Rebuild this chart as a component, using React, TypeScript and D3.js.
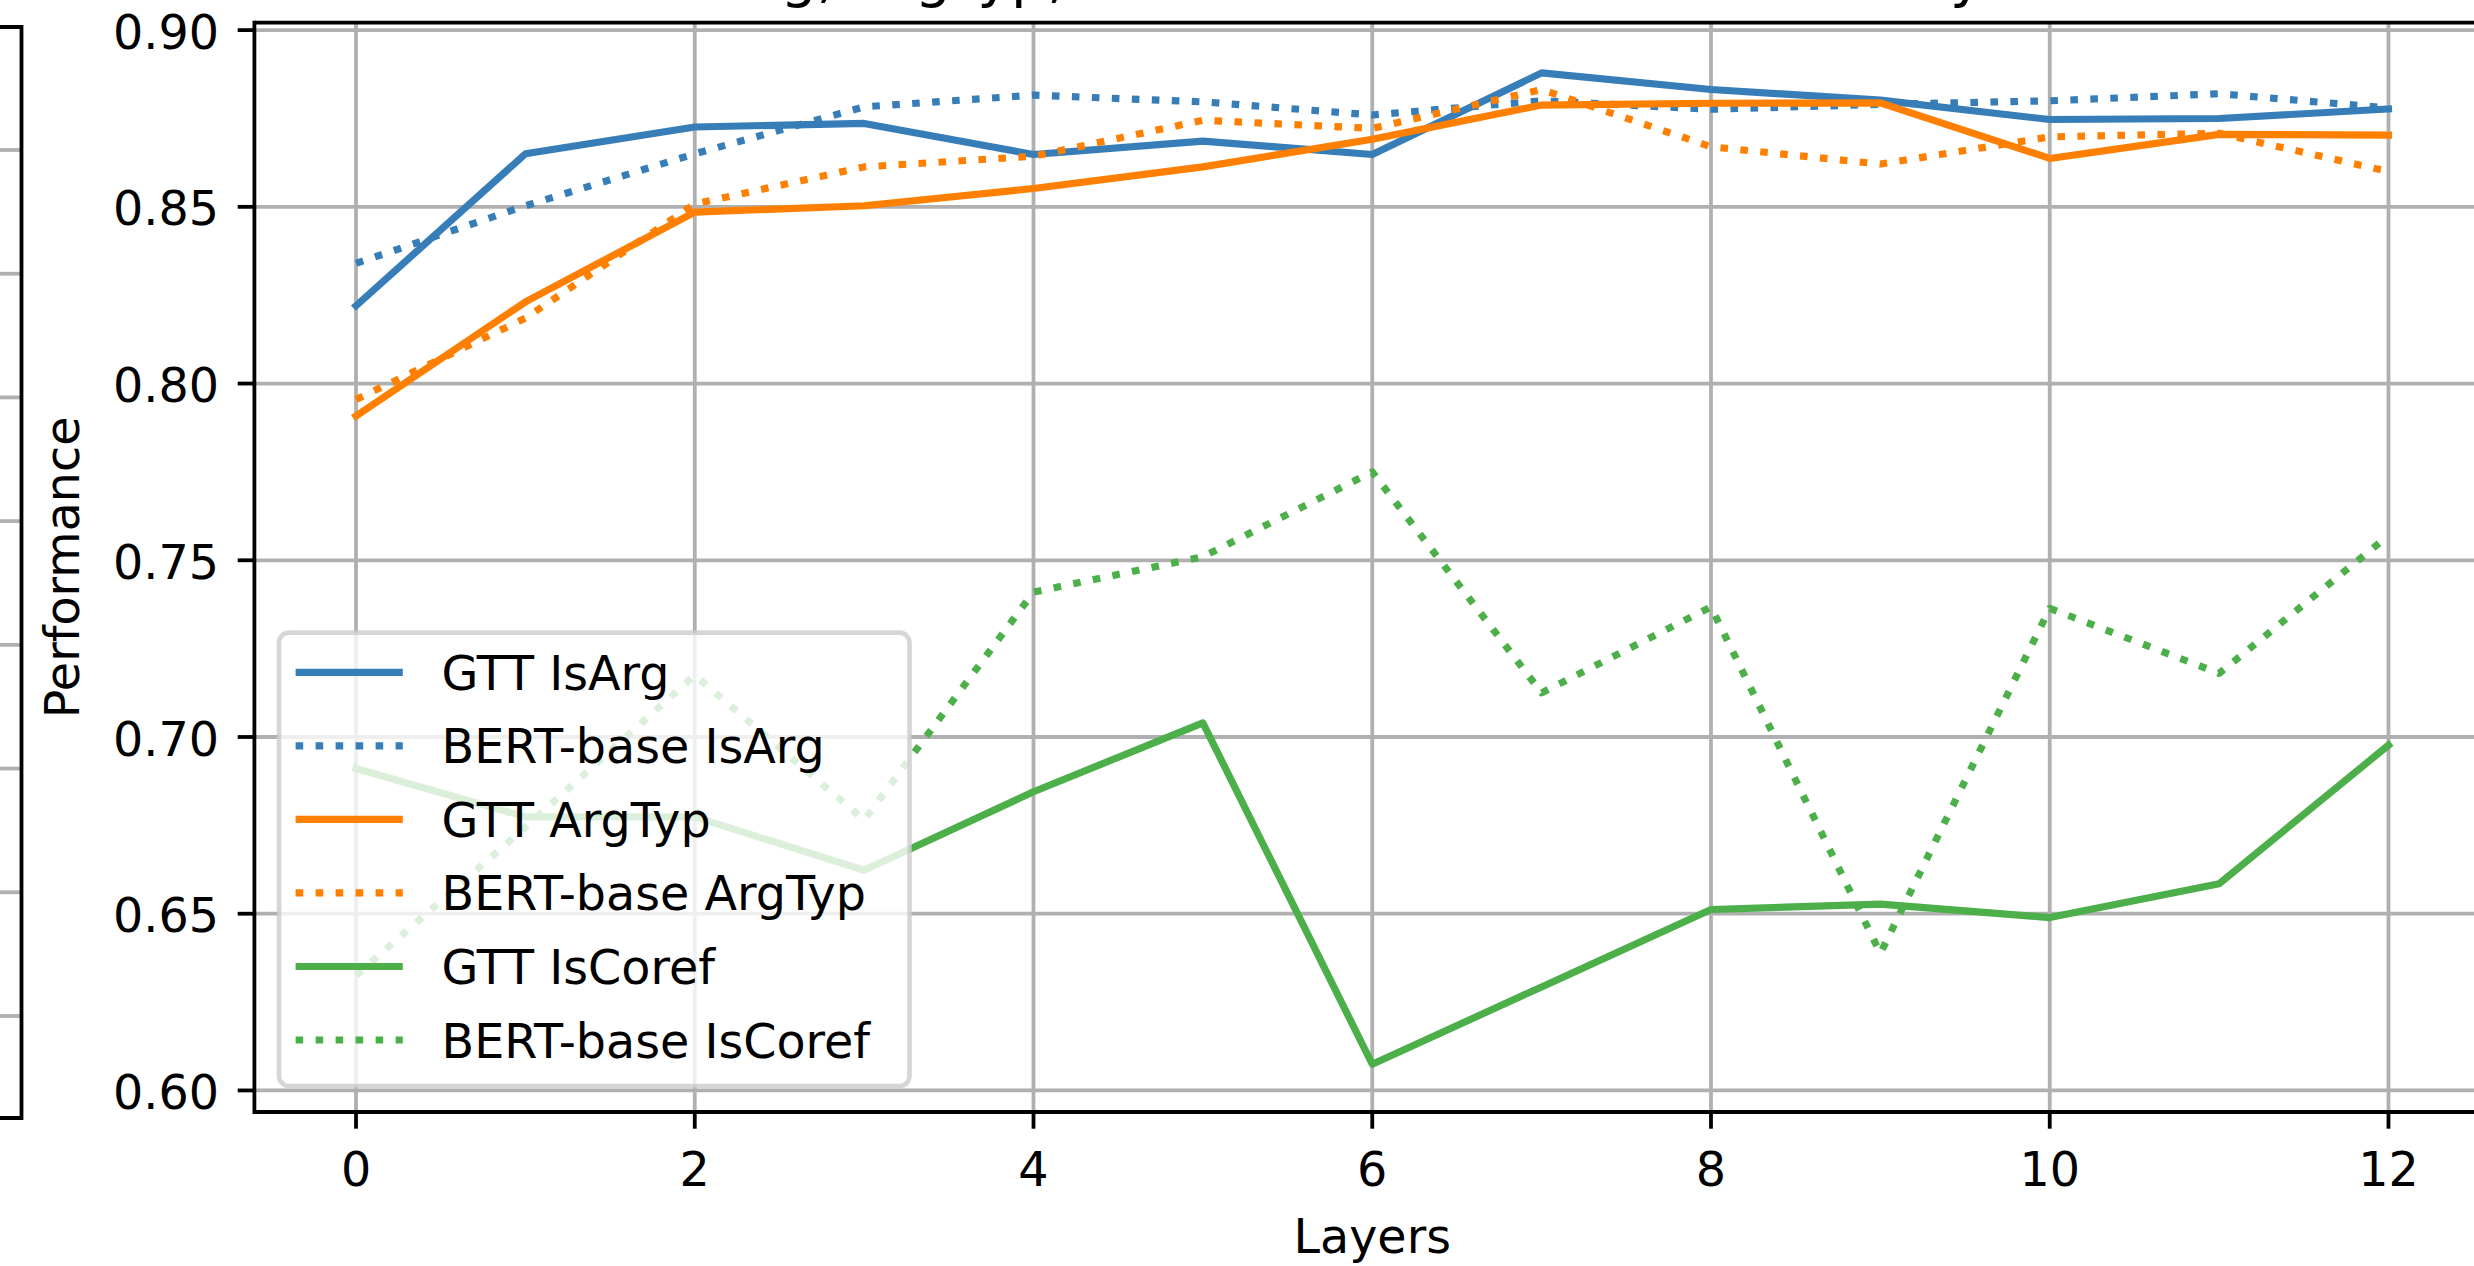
import React from "react";
import * as d3 from "d3";

// ---- data ----
const layers = [0, 1, 2, 3, 4, 5, 6, 7, 8, 9, 10, 11, 12];
const gttIsArg = [0.822, 0.865, 0.8726, 0.8736, 0.8648, 0.8686, 0.8648, 0.8879, 0.8832, 0.8802, 0.8747, 0.875, 0.8777];
const bertIsArg = [0.834, 0.8503, 0.865, 0.8783, 0.8816, 0.8797, 0.876, 0.880, 0.8776, 0.879, 0.880, 0.882, 0.878];
const gttArgTyp = [0.7908, 0.8231, 0.8485, 0.8503, 0.8552, 0.8613, 0.8691, 0.8788, 0.8793, 0.8794, 0.8637, 0.8705, 0.8703];
const bertArgTyp = [0.7955, 0.8185, 0.8508, 0.8613, 0.8643, 0.8745, 0.8722, 0.8832, 0.867, 0.8621, 0.8698, 0.8708, 0.860];
const gttIsCoref = [0.6911, 0.6774, 0.6774, 0.6623, 0.6845, 0.704, 0.6074, 0.6293, 0.6512, 0.6527, 0.6489, 0.6585, 0.6977];
const bertIsCoref = [0.6326, 0.6745, 0.7175, 0.6765, 0.741, 0.751, 0.775, 0.7125, 0.7368, 0.6388, 0.7364, 0.718, 0.757];

const seriesNames = ["GTT IsArg", "BERT-base IsArg", "GTT ArgTyp", "BERT-base ArgTyp", "GTT IsCoref", "BERT-base IsCoref"];
const seriesValues = [gttIsArg, bertIsArg, gttArgTyp, bertArgTyp, gttIsCoref, bertIsCoref];
const seriesColors = ["#377eb8", "#377eb8", "#ff7f00", "#ff7f00", "#4daf4a", "#4daf4a"];
const seriesDotted = [false, true, false, true, false, true];

const xTicks = [0, 2, 4, 6, 8, 10, 12];
const yTicks = [0.6, 0.65, 0.7, 0.75, 0.8, 0.85, 0.9];
const leftPanelGrid = [0, 1, 2, 3, 4, 5, 6, 7];

const titleText = "IsArg, ArgTyp, IsCoref Performance across Layers";
const xLabel = "Layers";
const yLabel = "Performance";

// ---- layout ----
const W = 2474;
const H = 1266;
const FONT = "'DejaVu Sans', sans-serif";
const FS = 47.6;
const LW = 7.15;
const GRID_W = 3.8;
const SPINE_W = 3.8;
const TICK_LEN = 16.7;

const plotLeft = 254.4;
const plotRight = 2490.1;
const plotTop = 22.7;
const plotBottom = 1112;

export default function App() {
  const x = d3.scaleLinear().domain([-0.6, 12.6]).range([plotLeft, plotRight]);
  const y = d3.scaleLinear().domain([0.5939, 0.9021]).range([plotBottom, plotTop]);
  const leftGridY = d3.scaleLinear().domain([0, 7]).range([150, 1016]);

  const line = d3
    .line<[number, number]>()
    .x((d) => x(d[0]))
    .y((d) => y(d[1]));

  const legX0 = 279;
  const legX1 = 909.5;
  const legY0 = 632.7;
  const legY1 = 1086;
  const rowY = d3.scaleLinear().domain([0, 5]).range([672.3, 1040]);
  const handleX0 = 295.6;
  const handleX1 = 402.8;
  const textX = 441.6;

  const cx = (plotLeft + plotRight) / 2;
  const cy = (plotTop + plotBottom) / 2;

  return (
    <svg
      width={W}
      height={H}
      viewBox={`0 0 ${W} ${H}`}
      style={{ position: "absolute", left: 0, top: 0, display: "block", background: "#fff" }}
      fontFamily={FONT}
    >
      <rect x={0} y={0} width={W} height={H} fill="#fff" />

      {/* remnant of the neighbouring panel on the left */}
      <g>
        {leftPanelGrid.map((i) => (
          <line key={i} x1={0} x2={21} y1={leftGridY(i)} y2={leftGridY(i)} stroke="#b0b0b0" strokeWidth={GRID_W} />
        ))}
        <path d={`M0,27 L21.5,27 L21.5,1118 L0,1118`} fill="none" stroke="#000" strokeWidth={SPINE_W} />
      </g>

      {/* title (mostly cut off at the top) */}
      <text x={cx} y={-4.5} textAnchor="middle" fontSize={57.2} fill="#000">
        {titleText}
      </text>

      {/* grid */}
      <g>
        {xTicks.map((t) => (
          <line key={"gx" + t} x1={x(t)} x2={x(t)} y1={plotTop} y2={plotBottom} stroke="#b0b0b0" strokeWidth={GRID_W} />
        ))}
        {yTicks.map((t) => (
          <line key={"gy" + t} x1={plotLeft} x2={plotRight} y1={y(t)} y2={y(t)} stroke="#b0b0b0" strokeWidth={GRID_W} />
        ))}
      </g>

      {/* series */}
      <g>
        {seriesValues.map((vals, i) => (
          <path
            key={seriesNames[i]}
            d={line(layers.map((l, j) => [l, vals[j]] as [number, number])) || ""}
            fill="none"
            stroke={seriesColors[i]}
            strokeWidth={LW}
            strokeLinejoin="round"
            strokeLinecap={seriesDotted[i] ? "butt" : "square"}
            strokeDasharray={seriesDotted[i] ? "7.6 12.4" : undefined}
          />
        ))}
      </g>

      {/* spines */}
      <line x1={plotLeft} x2={plotLeft} y1={plotTop - SPINE_W / 2} y2={plotBottom + SPINE_W / 2} stroke="#000" strokeWidth={SPINE_W} />
      <line x1={plotLeft} x2={plotRight} y1={plotTop} y2={plotTop} stroke="#000" strokeWidth={SPINE_W} />
      <line x1={plotLeft} x2={plotRight} y1={plotBottom} y2={plotBottom} stroke="#000" strokeWidth={SPINE_W} />
      <line x1={plotRight} x2={plotRight} y1={plotTop} y2={plotBottom} stroke="#000" strokeWidth={SPINE_W} />

      {/* x ticks */}
      <g>
        {xTicks.map((t) => (
          <g key={"xt" + t}>
            <line x1={x(t)} x2={x(t)} y1={plotBottom} y2={plotBottom + TICK_LEN} stroke="#000" strokeWidth={SPINE_W} />
            <text x={x(t)} y={1186} textAnchor="middle" fontSize={FS} fill="#000">
              {String(t)}
            </text>
          </g>
        ))}
      </g>

      {/* y ticks */}
      <g>
        {yTicks.map((t) => (
          <g key={"yt" + t}>
            <line x1={plotLeft - TICK_LEN} x2={plotLeft} y1={y(t)} y2={y(t)} stroke="#000" strokeWidth={SPINE_W} />
            <text x={219} y={y(t) + 18.5} textAnchor="end" fontSize={FS} fill="#000">
              {d3.format(".2f")(t)}
            </text>
          </g>
        ))}
      </g>

      {/* axis labels */}
      <text x={cx} y={1253} textAnchor="middle" fontSize={FS} fill="#000">
        {xLabel}
      </text>
      <text transform={`translate(79,${cy}) rotate(-90)`} textAnchor="middle" fontSize={FS} fill="#000">
        {yLabel}
      </text>

      {/* legend */}
      <g>
        <rect
          x={legX0}
          y={legY0}
          width={legX1 - legX0}
          height={legY1 - legY0}
          rx={10}
          ry={10}
          fill="#fff"
          fillOpacity={0.8}
          stroke="#cccccc"
          strokeOpacity={0.8}
          strokeWidth={4.7}
        />
        {seriesNames.map((name, i) => (
          <g key={"lg" + name}>
            <line
              x1={handleX0}
              x2={handleX1}
              y1={rowY(i)}
              y2={rowY(i)}
              stroke={seriesColors[i]}
              strokeWidth={LW}
              strokeDasharray={seriesDotted[i] ? "7.6 12.4" : undefined}
            />
            <text x={textX} y={rowY(i) + 17.5} fontSize={FS} fill="#000">
              {name}
            </text>
          </g>
        ))}
      </g>
    </svg>
  );
}
